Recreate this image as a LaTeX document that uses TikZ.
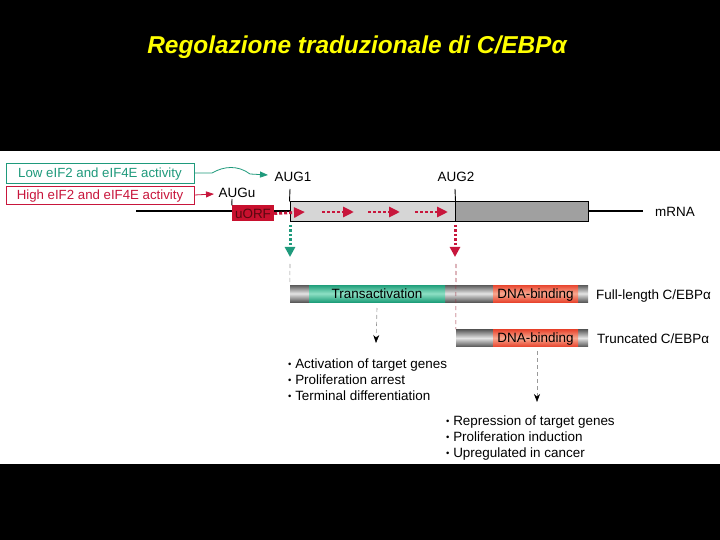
\documentclass[tikz,border=0pt]{standalone}
\usepackage{fontspec}
\setmainfont{Liberation Sans}
\usetikzlibrary{arrows.meta}
\definecolor{tealc}{HTML}{1F9A7C}
\definecolor{crim}{HTML}{C8163C}
\definecolor{uorff}{HTML}{C8102E}
\definecolor{uorft}{HTML}{5A0810}
\definecolor{ltgray}{HTML}{D6D6D6}
\definecolor{dkgray}{HTML}{A0A0A0}
\definecolor{titley}{HTML}{FFFF00}
\definecolor{barD}{HTML}{5A5A5A}
\definecolor{barL}{HTML}{E4E4E4}
\definecolor{grnD}{HTML}{1E9E7A}
\definecolor{grnL}{HTML}{8EE0C4}
\definecolor{redD}{HTML}{E8452E}
\definecolor{redL}{HTML}{F8A890}
\definecolor{dred}{HTML}{A03040}
\newcommand{\bul}{\raisebox{0.6bp}{\fontsize{9.5}{9.5}\selectfont •}\ }
\begin{document}
\begin{tikzpicture}[x=1bp,y=-1bp,
  txt/.style={font=\fontsize{13.5}{15}\selectfont, inner sep=0pt},
  ctext/.style={text height=9.8bp, text depth=0.2bp},
  actbox/.style={draw, line width=0.9bp, minimum width=188bp, inner sep=0pt, ctext, font=\fontsize{13.3}{15}\selectfont},
  grayline/.style={draw=gray!80, line width=0.6bp, dash pattern=on 4bp off 3bp},
  rdash/.style={crim, line width=2.8bp, dash pattern=on 3bp off 2bp, -{Triangle[length=11bp,width=10bp]}},
  vdot/.style={line width=3bp, dash pattern=on 2.5bp off 2bp, -{Triangle[length=10bp,width=10bp]}},
  bar/.style={shading=axis, top color=barD, bottom color=barD, middle color=barL, inner sep=0pt, minimum height=17bp},
  grnseg/.style={shading=axis, top color=grnD, bottom color=grnD, middle color=grnL, inner sep=0pt, minimum height=17bp, ctext, font=\fontsize{13.5}{15}\selectfont},
  redseg/.style={shading=axis, top color=redD, bottom color=redD, middle color=redL, inner sep=0pt, minimum height=17bp, ctext, font=\fontsize{13.5}{15}\selectfont},
  gtip/.style={-{Stealth[length=8bp,width=6bp,black]}}
]
\useasboundingbox (0,0) rectangle (720,540);
\fill[black] (0,0) rectangle (720,540);
\fill[white] (0,151) rectangle (720,464);

\node[text=titley, font=\fontsize{24.5}{28}\selectfont\bfseries\itshape, inner sep=0pt] (title) at (357,47) {Regolazione traduzionale di C/EBPα};

% activity boxes
\node[actbox, draw=tealc, text=tealc, minimum height=20bp] (low) at (100,173) {Low eIF2 and eIF4E activity};
\node[actbox, draw=crim, text=crim, minimum height=18bp] (high) at (100,195) {High eIF2 and eIF4E activity};

% mRNA
\coordinate (mstart) at (136,211);
\coordinate (mend) at (643,211);
\draw[line width=1.1bp] (mstart) -- (mend);
\node[draw, line width=1bp, fill=ltgray, minimum width=165bp, minimum height=20bp, inner sep=0pt] (cds1) at (372.5,212) {};
\node[draw, line width=1bp, fill=dkgray, minimum width=133bp, minimum height=20bp, inner sep=0pt] (cds2) at (521.5,212) {};
\node[fill=uorff, minimum width=42bp, minimum height=16bp, inner sep=0pt, ctext, text=uorft, font=\fontsize{13.5}{15}\selectfont] (uorf) at (253,213.5) {uORF};

% labels
\node[txt, anchor=base] (augu) at (237,198) {AUGu};
\node[txt, anchor=base] (aug1) at (293,182) {AUG1};
\node[txt, anchor=base] (aug2) at (456,182) {AUG2};
\node[txt, anchor=base west] (mrna) at (655,217) {mRNA};

% ticks
\draw[line width=0.9bp] (232,199) -- (uorf.north west);
\draw[line width=0.9bp] (290,189) -- (cds1.north west);
\draw[line width=0.9bp] (455,189) -- (cds1.north east);

% activity arrows
\coordinate (lowtip) at (268,175);
\coordinate (hightip) at (214,194);
\draw[tealc, line width=0.8bp, -{Triangle[length=8bp,width=6bp]}] (low.east) -- (212,173) .. controls (224,166) and (238,165) .. (250,174) -- (lowtip);
\draw[crim, line width=0.8bp, -{Triangle[length=8bp,width=6bp]}] (high.east) -- (hightip);

% red dashed scanning arrows
\coordinate (r1) at (305,212);
\draw[rdash] (uorf.east) -- (r1);
\coordinate (r2a) at (322,212); \coordinate (r2b) at (354,212);
\coordinate (r3a) at (368,212); \coordinate (r3b) at (400,212);
\coordinate (r4a) at (415,212); \coordinate (r4b) at (448,212);
\draw[rdash] (r2a) -- (r2b);
\draw[rdash] (r3a) -- (r3b);
\draw[rdash] (r4a) -- (r4b);

% proteins
\node[bar, minimum width=298bp] (full) at (439,293.5) {};
\node[grnseg, minimum width=136bp] (trans) at (377,293.5) {Transactivation};
\node[redseg, minimum width=85bp] (dnab1) at (535.5,293.5) {DNA-binding};
\node[txt, anchor=base west] (fulllab) at (596,299) {Full-length C/EBPα};

\node[bar, minimum width=132bp] (trunc) at (522,338) {};
\node[redseg, minimum width=85bp] (dnab2) at (535.5,338) {DNA-binding};
\node[txt, anchor=base west] (trunclab) at (597,343) {Truncated C/EBPα};

% vertical arrows from AUGs
\coordinate (g1) at (290,225); \coordinate (g2) at (290,257);
\draw[vdot, tealc] (g1) -- (g2);
\coordinate (g3) at (290,264);
\draw[grayline] (g3) -- (full.north west);
\coordinate (p1) at (455,225); \coordinate (p2) at (455,257);
\draw[vdot, crim] (p1) -- (p2);
\coordinate (p3) at (456,264);
\draw[dred, line width=0.6bp, dash pattern=on 4bp off 3bp] (p3) -- (trunc.north west);

% outcome arrows
\coordinate (o1) at (376,343);
\draw[grayline, gtip] (trans.south |- 0,308) -- (o1);
\coordinate (o2) at (537,402);
\draw[grayline, gtip] (537,351) -- (o2);

% lists
\node[txt, anchor=base west] (la) at (288,368) {\bul Activation of target genes};
\node[txt, anchor=base west] (lb) at (288,384) {\bul Proliferation arrest};
\node[txt, anchor=base west] (lc) at (288,400) {\bul Terminal differentiation};
\node[txt, anchor=base west] (ra) at (446,425) {\bul Repression of target genes};
\node[txt, anchor=base west] (rb) at (446,441) {\bul Proliferation induction};
\node[txt, anchor=base west] (rc) at (446,457) {\bul Upregulated in cancer};
\end{tikzpicture}
\end{document}
